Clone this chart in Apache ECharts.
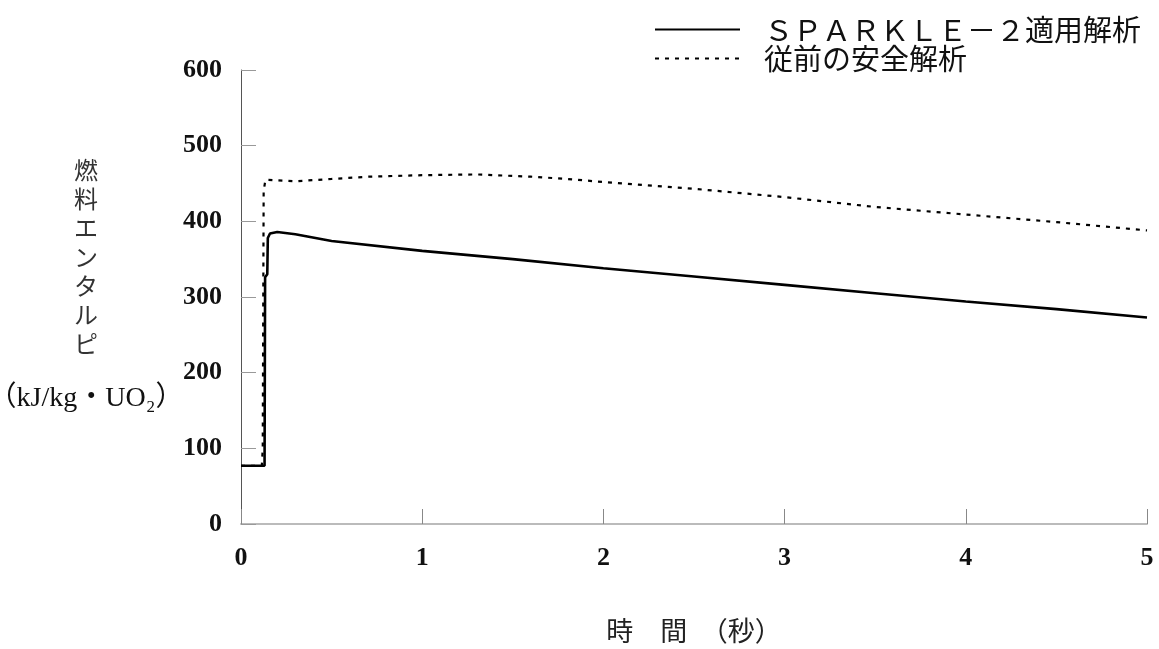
<!DOCTYPE html>
<html>
<head>
    <meta charset="utf-8">
    <title>燃料エンタルピ</title>
    <script src="https://cdn.jsdelivr.net/npm/echarts@6/dist/echarts.min.js"></script>
    <style>
        html, body { margin: 0; padding: 0; background: #fff; }
        #chart { width: 1159px; height: 649px; }
    </style>
</head>
<body>
<div id="chart"></div>
<script>
    // 凡例
    var seriesNames = ['ＳＰＡＲＫＬＥ－２適用解析', '従前の安全解析'];

    // SPARKLE-2 適用解析 (実線)
    var sparkleTime = [0, 0.13, 0.133, 0.145, 0.148, 0.16, 0.2, 0.3, 0.5, 1.0, 1.5, 2.0, 2.5, 3.0, 3.5, 4.0, 4.5, 5.0];
    var sparkleValue = [77, 77, 326, 330, 378, 384, 386, 383, 374, 361, 350, 338, 327, 316, 305, 294, 284, 273];

    // 従前の安全解析 (破線)
    var pastTime = [0, 0.115, 0.12, 0.125, 0.135, 0.3, 0.5, 0.7, 1.0, 1.3, 1.6, 1.8, 2.0, 2.5, 3.0, 3.5, 4.0, 4.5, 5.0];
    var pastValue = [77, 77, 100, 440, 455, 453, 456, 459, 461, 462, 459, 456, 452, 443, 432, 419, 409, 399, 388];

    // 軸目盛
    var xTicks = [0, 1, 2, 3, 4, 5];
    var yTicks = [0, 100, 200, 300, 400, 500, 600];

    // 縦軸の名前
    var yNameChars = ['燃', '料', 'エ', 'ン', 'タ', 'ル', 'ピ'];
    var yUnit = '（kJ/kg・UO₂）';

    function pairs(t, v) {
        return t.map(function (x, i) { return [x, v[i]]; });
    }

    var serif = "'Liberation Serif', 'Noto Sans CJK JP', serif";
    var cjk = "'Noto Sans CJK JP', 'Liberation Serif', sans-serif";

    var yNameText = yNameChars.map(function (c) { return '{v|' + c + '}'; }).join('\n')
        + '\n{gap| }\n{u|' + yUnit + '}';

    var chart = echarts.init(document.getElementById('chart'));
    var option = {
        backgroundColor: '#fff',
        animation: false,
        title: {
            text: yNameText,
            left: 81,
            top: 150,
            textAlign: 'center',
            textStyle: {
                fontWeight: 'normal',
                rich: {
                    v: { fontFamily: cjk, fontSize: 24, fontWeight: 'normal', color: '#333', lineHeight: 29 },
                    gap: { fontSize: 10, lineHeight: 26 },
                    u: { fontFamily: serif, fontSize: 28, fontWeight: 'normal', color: '#111', lineHeight: 30 }
                }
            }
        },
        legend: {
            orient: 'vertical',
            left: 649,
            top: 10,
            itemWidth: 85,
            itemHeight: 14,
            itemGap: 0,
            data: seriesNames,
            itemStyle: { color: 'rgba(0,0,0,0)', borderWidth: 0 },
            textStyle: {
                fontFamily: cjk,
                fontSize: 29,
                lineHeight: 28,
                color: '#111',
                padding: [0, 0, 0, 19]
            }
        },
        grid: {
            left: 241,
            right: 12,
            top: 70,
            bottom: 124
        },
        xAxis: {
            type: 'value',
            min: xTicks[0],
            max: xTicks[xTicks.length - 1],
            interval: 1,
            name: '時　間　（秒）',
            nameLocation: 'middle',
            nameGap: 93,
            nameTextStyle: {
                fontFamily: cjk,
                fontSize: 27,
                color: '#222'
            },
            axisLine: { lineStyle: { color: '#bbb', width: 2 } },
            axisTick: { inside: true, length: 15, lineStyle: { color: '#888' } },
            axisLabel: {
                margin: 21,
                fontFamily: serif,
                fontSize: 26,
                fontWeight: 'bold',
                color: '#111'
            },
            splitLine: { show: false }
        },
        yAxis: {
            type: 'value',
            min: yTicks[0],
            max: yTicks[yTicks.length - 1],
            interval: 100,
            axisLine: { show: true, lineStyle: { color: '#555', width: 1 } },
            axisTick: { show: true, inside: true, length: 15, lineStyle: { color: '#999' } },
            axisLabel: {
                margin: 19,
                fontFamily: serif,
                fontSize: 26,
                fontWeight: 'bold',
                color: '#111'
            },
            splitLine: { show: false }
        },
        series: [
            {
                name: seriesNames[0],
                type: 'line',
                symbol: 'none',
                data: pairs(sparkleTime, sparkleValue),
                lineStyle: { color: '#000', width: 2.6, type: 'solid' },
                itemStyle: { color: '#000' },
                z: 3
            },
            {
                name: seriesNames[1],
                type: 'line',
                symbol: 'none',
                data: pairs(pastTime, pastValue),
                lineStyle: { color: '#000', width: 2.2, type: [4, 6] },
                itemStyle: { color: '#000' },
                z: 2
            }
        ]
    };
    chart.setOption(option);

    window.onresize = function () {
        chart.resize();
    };
</script>
</body>
</html>
